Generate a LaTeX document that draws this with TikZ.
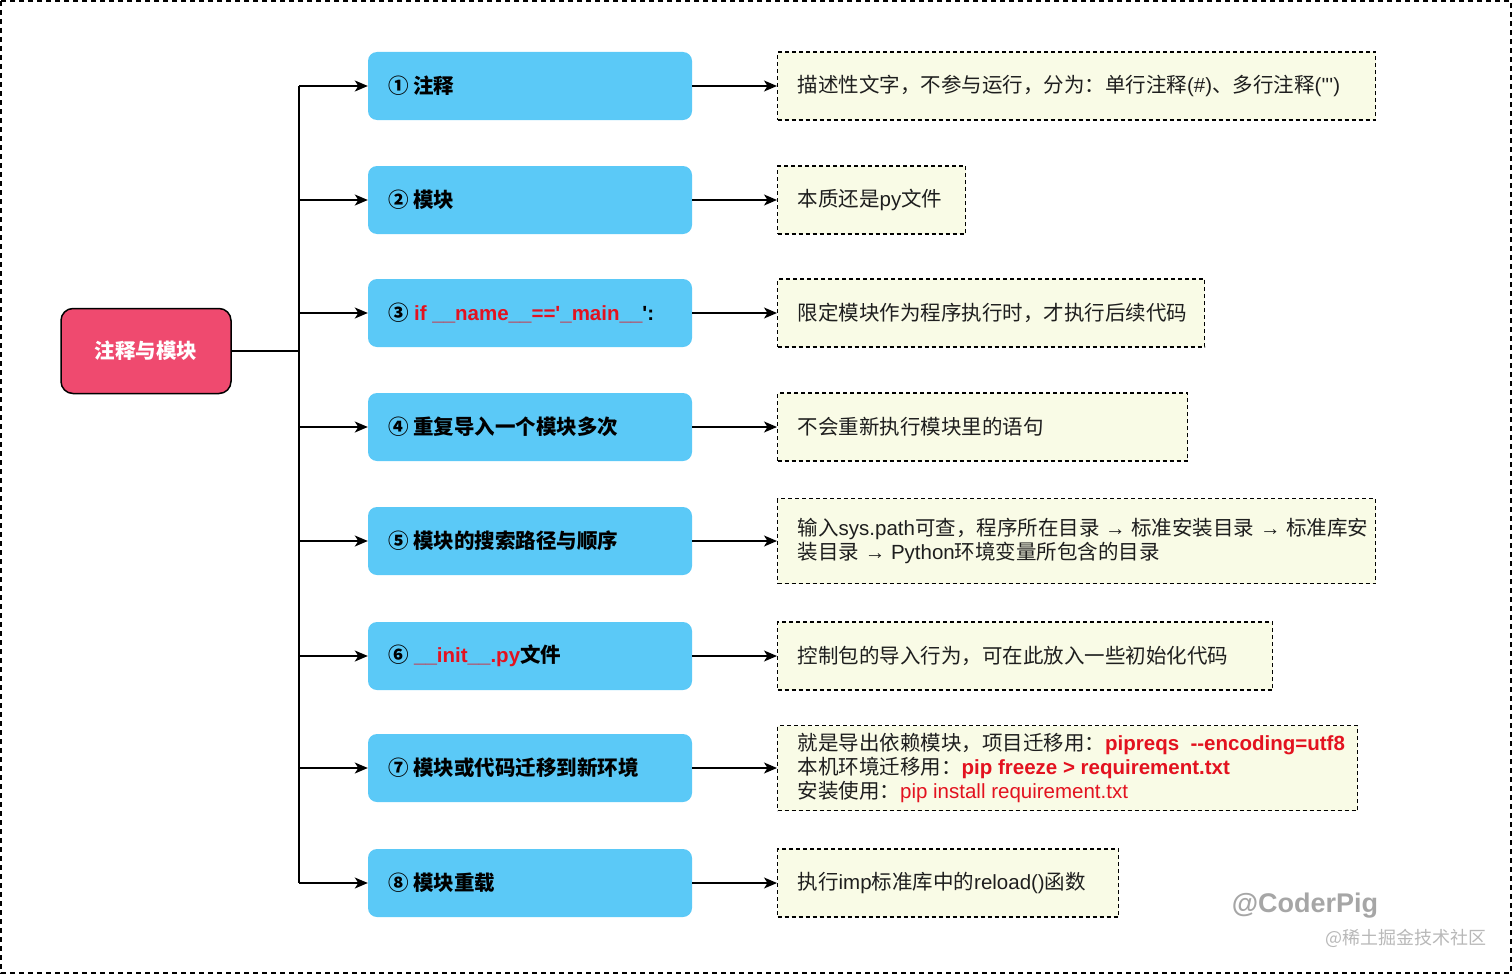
\documentclass[tikz,border=0pt]{standalone}
\usepackage{fontspec}
\setmainfont{Liberation Sans}[Ligatures=TeXOff]
\newfontfamily\cjk{Noto Sans CJK SC}
\usetikzlibrary{arrows.meta}
\definecolor{bluebox}{HTML}{5BC9F7}
\definecolor{rootfill}{HTML}{EF4A6F}
\definecolor{notefill}{HTML}{F9FBE6}
\definecolor{cred}{HTML}{E3121F}
\definecolor{txt}{HTML}{1E1E1E}
\begin{document}
\begin{tikzpicture}[x=1pt,y=-1pt,
  every node/.style={font=\fontsize{20.5}{24}\selectfont},
  rootbox/.style={draw=black,line width=1.5pt,fill=rootfill,rounded corners=12pt,minimum width=170pt,minimum height=85pt,text=white,font=\fontsize{20.5}{24}\selectfont\bfseries},
  topicbox/.style={fill=bluebox,rounded corners=9pt,minimum height=68pt,inner xsep=20pt,text width=284pt,align=flush left,font=\fontsize{20.5}{24}\selectfont\bfseries,text=black},
  notebox/.style={draw=black,line width=1.3pt,dash pattern=on 4pt off 3pt,fill=notefill,minimum height=68pt,inner xsep=20pt,align=flush left,text=txt,anchor=west},
  conn/.style={line width=1.5pt,black},
  arr/.style={conn,-{Stealth[length=13pt,width=11pt,inset=3.5pt]}}
]
\useasboundingbox (0,0) rectangle (1512,974);
\draw[line width=1.8pt,dash pattern=on 5pt off 4pt] (1,1) rectangle (1511,973);

\node[rootbox] (root) at (146,351) {{\cjk 注释与模块}};
\coordinate (j) at (299,351);
\coordinate (t1) at (299,86);
\coordinate (t8) at (299,883);
\draw[conn] (root.east) -- (j);
\draw[conn] (t1) -- (t8);

\node[topicbox] (b1) at (530,86) {{\cjk ① 注释}};
\node[topicbox] (b2) at (530,200) {{\cjk ② 模块}};
\node[topicbox] (b3) at (530,313) {{\cjk ③} \textcolor{cred}{if \_\_name\_\_=='\_main\_\_}':};
\node[topicbox] (b4) at (530,427) {{\cjk ④ 重复导入一个模块多次}};
\node[topicbox] (b5) at (530,541) {{\cjk ⑤ 模块的搜索路径与顺序}};
\node[topicbox] (b6) at (530,656) {{\cjk ⑥} \textcolor{cred}{\_\_init\_\_.py}{\cjk 文件}};
\node[topicbox] (b7) at (530,768) {{\cjk ⑦ 模块或代码迁移到新环境}};
\node[topicbox] (b8) at (530,883) {{\cjk ⑧ 模块重载}};

\node[notebox,text width=558pt] (n1) at (777,86) {{\cjk 描述性文字，不参与运行，分为：单行注释}(\#){\cjk 、多行注释}(''')};
\node[notebox,text width=148pt] (n2) at (777,200) {{\cjk 本质还是}py{\cjk 文件}};
\node[notebox,text width=387pt] (n3) at (777,313) {{\cjk 限定模块作为程序执行时，才执行后续代码}};
\node[notebox,text width=370pt] (n4) at (777,427) {{\cjk 不会重新执行模块里的语句}};
\node[notebox,text width=558pt,minimum height=85pt] (n5) at (777,541) {\mbox{{\cjk 输入}sys.path{\cjk 可查，程序所在目录} → {\cjk 标准安装目录} → {\cjk 标准库安}}\\\mbox{{\cjk 装目录} → Python{\cjk 环境变量所包含的目录}}};
\node[notebox,text width=455pt] (n6) at (777,656) {{\cjk 控制包的导入行为，可在此放入一些初始化代码}};
\node[notebox,text width=540pt,minimum height=85pt] (n7) at (777,768) {\mbox{{\cjk 就是导出依赖模块，项目迁移用：}\textcolor{cred}{\bfseries pipreqs\ \ --encoding=utf8}}\\\mbox{{\cjk 本机环境迁移用：}\textcolor{cred}{\bfseries pip freeze > requirement.txt}}\\\mbox{{\cjk 安装使用：}\textcolor{cred}{pip install requirement.txt}}};
\node[notebox,text width=301pt] (n8) at (777,883) {{\cjk 执行}imp{\cjk 标准库中的}reload(){\cjk 函数}};

\foreach \i in {1,...,8} {
  \draw[arr] (b\i.west -| t1) -- (b\i.west);
  \draw[arr] (b\i.east) -- (n\i.west);
}

\node[text=black!35,font=\fontsize{27}{30}\selectfont\bfseries] (wm1) at (1305,906) {@CoderPig};
\node[text=black!28,font=\fontsize{18}{20}\selectfont] (wm2) at (1406,938) {{\cjk @稀土掘金技术社区}};
\end{tikzpicture}
\end{document}
